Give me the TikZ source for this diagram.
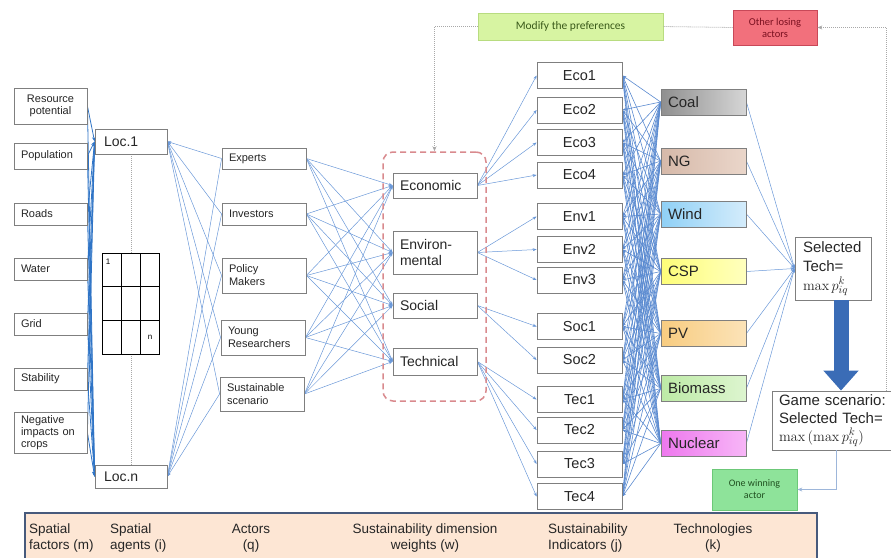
\documentclass[tikz,border=0pt]{standalone}
\usepackage[no-math]{fontspec}
\setmainfont{Liberation Sans}
\newfontfamily\calib{Carlito}
\usetikzlibrary{arrows.meta,calc,backgrounds}
\newcommand{\fsz}[2]{\fontsize{#1}{#2}\selectfont}
\definecolor{boxgray}{HTML}{7F7F7F}
\definecolor{txt}{HTML}{262626}
\definecolor{lineblue}{HTML}{6A98D8}
\definecolor{denseblue}{HTML}{5A8AD0}
\definecolor{strongblue}{HTML}{2F74C6}
\definecolor{dashpink}{HTML}{D98A8E}
\definecolor{fbgray}{HTML}{A8A8A8}
\definecolor{fbblue}{HTML}{9DB6DA}
\definecolor{bigblue}{HTML}{3A6CB6}
\definecolor{modfill}{HTML}{D7F4A2}
\definecolor{moddraw}{HTML}{B8DC80}
\definecolor{modtext}{HTML}{3A5A1A}
\definecolor{othfill}{HTML}{F2707C}
\definecolor{othdraw}{HTML}{C84858}
\definecolor{othtext}{HTML}{7A1020}
\definecolor{winfill}{HTML}{8EE39A}
\definecolor{windraw}{HTML}{6CC878}
\definecolor{wintext}{HTML}{205020}
\definecolor{barfill}{HTML}{FDE6D4}
\definecolor{bardraw}{HTML}{475A7C}
\begin{document}
\begin{tikzpicture}[x=1pt,y=-1pt,
  box/.style={draw=boxgray, line width=0.8pt, fill=white, text=txt, inner ysep=0pt},
  fac/.style={box, font=\fsz{11}{12}, text width=59pt, inner xsep=7pt, align=left},
  locbox/.style={box, font=\fsz{14}{16}, text width=54pt, inner xsep=9pt, align=left, minimum height=25pt},
  act/.style={box, font=\fsz{11}{13}, text width=70pt, inner xsep=7pt, align=left},
  dim/.style={box, font=\fsz{14}{16}, text width=70pt, inner xsep=7pt, align=left},
  ind/.style={box, font=\fsz{14.5}{17}, minimum width=85pt, minimum height=26pt, inner xsep=0pt, align=center},
  tech/.style={draw=boxgray, line width=0.8pt, text=txt, inner ysep=0pt, font=\fsz{15}{17}, text width=71pt, inner xsep=7pt, align=left, minimum height=26pt},
  conn/.style={draw=lineblue, line width=0.5pt, -{Stealth[length=4pt,width=3pt]}},
  dconn/.style={draw=denseblue, line width=0.6pt, -{Stealth[length=4pt,width=3pt]}},
  sconn/.style={draw=strongblue, line width=0.8pt, -{Stealth[length=4.5pt,width=3.5pt]}},
  fbdot/.style={draw=fbgray, line width=0.8pt, dash pattern=on 1pt off 1pt},
  fbline/.style={draw=fbblue, line width=0.9pt},
  fbtip/.style={-{Stealth[length=5pt,width=4pt]}},
  bartext/.style={font=\fsz{13.5}{15.5}, text=txt, inner sep=0pt}
]
\useasboundingbox (0,0) rectangle (891,557);

% spatial factors
\node[fac, minimum height=36pt, align=center] (res) at (50.5,106) {Resource\\potential};
\node[fac, minimum height=26pt] (pop) at (50.5,156) {Population};
\node[fac, minimum height=22pt] (roads) at (50.5,214) {Roads};
\node[fac, minimum height=22pt] (water) at (50.5,269) {Water};
\node[fac, minimum height=22pt] (gridf) at (50.5,324) {Grid};
\node[fac, minimum height=22pt] (stab) at (50.5,379) {Stability};
\node[fac, minimum height=41pt] (neg) at (50.5,432.5) {Negative\\impacts on\\crops};

% spatial agents
\node[locbox] (loc1) at (131,141.5) {Loc.1};
\node[locbox, minimum height=23pt] (locn) at (131,476.5) {Loc.n};
\draw[line width=0.7pt, fill=white] (102,253) rectangle (159,354);
\draw[line width=0.7pt] (121,253) -- (121,354) (140,253) -- (140,354)
  (102,286.7) -- (159,286.7) (102,320.3) -- (159,320.3);
\node[font=\fsz{8}{9}, inner sep=0pt] (gone) at (108,262) {1};
\node[font=\fsz{8}{9}, inner sep=0pt] (gn) at (150,337) {n};

% actors
\node[act, minimum height=21pt] (exp) at (264,158.5) {Experts};
\node[act, minimum height=22pt] (inv) at (264,214) {Investors};
\node[act, minimum height=35pt] (pol) at (264,275.5) {Policy\\Makers};
\node[act, minimum height=35pt] (yng) at (263,337.5) {Young\\Researchers};
\node[act, minimum height=34pt] (sus) at (262,394) {Sustainable\\scenario};

% dimensions
\node[draw=dashpink, dash pattern=on 6pt off 4pt, line width=1.5pt, rounded corners=10pt,
  minimum width=103pt, minimum height=249pt, inner sep=0pt] (dimbox) at (434.5,276.5) {};
\node[dim, minimum height=25pt] (deco) at (435,185.5) {Economic};
\node[dim, minimum height=43pt] (denv) at (435,252.5) {Environ-\\mental};
\node[dim, minimum height=25pt] (dsoc) at (435,305.5) {Social};
\node[dim, minimum height=27pt] (dtec) at (435,361.5) {Technical};

% indicators
\foreach \n/\y in {Eco1/75.5, Eco2/110, Eco3/142.5, Eco4/175, Env1/216.5, Env2/249.5, Env3/280,
  Soc1/326.5, Soc2/360, Tec1/399.5, Tec2/430, Tec3/464, Tec4/496.5}
  \node[ind] (\n) at (579.5,\y) {\n};

% technologies
\node[tech, left color={rgb,255:red,143;green,143;blue,143}, right color={rgb,255:red,214;green,214;blue,214}] (coal) at (703.5,102) {Coal};
\node[tech, left color={rgb,255:red,214;green,185;blue,169}, right color={rgb,255:red,234;green,214;blue,202}] (ng) at (703.5,161) {NG};
\node[tech, left color={rgb,255:red,143;green,208;blue,246}, right color={rgb,255:red,212;green,236;blue,251}] (wind) at (703.5,214) {Wind};
\node[tech, left color={rgb,255:red,254;green,254;blue,120}, right color={rgb,255:red,255;green,255;blue,190}] (csp) at (703.5,271.5) {CSP};
\node[tech, left color={rgb,255:red,248;green,204;blue,128}, right color={rgb,255:red,251;green,227;blue,184}] (pv) at (703.5,333.5) {PV};
\node[tech, left color={rgb,255:red,189;green,234;blue,166}, right color={rgb,255:red,221;green,245;blue,207}] (bio) at (703.5,388.5) {Biomass};
\node[tech, left color={rgb,255:red,238;green,120;blue,238}, right color={rgb,255:red,247;green,182;blue,247}] (nuc) at (703.5,443.5) {Nuclear};

% selection
\node[box, font=\fsz{15}{19}, text width=60pt, inner xsep=8pt, align=left, minimum height=63pt] (sel) at (833,268.5)
  {Selected\\Tech=\\$\max p_{iq}^{k}$};
\node[box, font=\fsz{15}{18}, text width=114pt, inner xsep=7pt, align=left, minimum height=59pt] (game) at (836,420.5)
  {Game scenario:\\Selected Tech=\\$\max\,(\max p_{iq}^{k})$};
\node[draw=windraw, fill=winfill, text=wintext, line width=0.8pt, font=\calib\fsz{10}{12}, align=center,
  minimum width=85pt, minimum height=41pt, inner sep=0pt] (win) at (754.5,489.5) {One winning\\actor};

% top feedback boxes
\node[draw=moddraw, fill=modfill, text=modtext, line width=0.8pt, font=\calib\fsz{11.5}{13},
  minimum width=185pt, minimum height=27pt, inner sep=0pt] (modify) at (570.5,26.5) {Modify the preferences};
\node[draw=othdraw, fill=othfill, text=othtext, line width=0.8pt, font=\calib\fsz{10.5}{12}, align=center,
  minimum width=84pt, minimum height=35pt, inner sep=0pt] (other) at (775,27.5) {Other losing\\actors};

% bottom bar
\node[draw=bardraw, fill=barfill, line width=1.5pt, minimum width=792pt, minimum height=50pt, inner sep=0pt] (bar) at (421,538) {};
\node[bartext, anchor=west, align=left] (lsf) at (29,538) {Spatial\\factors (m)};
\node[bartext, anchor=west, align=left] (lsa) at (110,538) {Spatial\\agents (i)};
\node[bartext, align=center] (lac) at (251,538) {Actors\\(q)};
\node[bartext, align=center] (lsd) at (425,538) {Sustainability dimension\\weights (w)};
\node[bartext, anchor=west, align=left] (lsi) at (548,538) {Sustainability\\Indicators (j)};
\node[bartext, align=center] (lte) at (713,538) {Technologies\\(k)};

% connectors
\begin{scope}[on background layer]
  \draw[fbdot] (loc1.south) -- (locn.north);
  \foreach \f in {res,pop,roads,water,gridf,stab,neg}{
    \draw[sconn] (\f.east) -- (loc1.west);
    \draw[sconn] (\f.east) -- (locn.west);
  }
  \foreach \a in {exp,inv,pol,yng,sus}{
    \draw[conn] (\a.west) -- (loc1.east);
    \draw[conn] (\a.west) -- (locn.east);
    \foreach \d in {deco,denv,dsoc,dtec}
      \draw[conn] (\a.east) -- (\d.west);
  }
  \foreach \i in {Eco1,Eco2,Eco3,Eco4} \draw[conn] (deco.east) -- (\i.west);
  \foreach \i in {Env1,Env2,Env3} \draw[conn] (denv.east) -- (\i.west);
  \foreach \i in {Soc1,Soc2} \draw[conn] (dsoc.east) -- (\i.west);
  \foreach \i in {Tec1,Tec2,Tec3,Tec4} \draw[conn] (dtec.east) -- (\i.west);
  \foreach \t in {coal,ng,wind,csp,pv,bio,nuc}{
    \foreach \i in {Eco1,Eco2,Eco3,Eco4,Env1,Env2,Env3,Soc1,Soc2,Tec1,Tec2,Tec3,Tec4}
      \draw[dconn] (\t.west) -- (\i.east);
    \draw[conn] (\t.east) -- (sel.west);
  }
\end{scope}

% feedback loops
\coordinate (gR) at ($(game.north west)+(115,0)$);
\draw[fbdot, fbtip] (gR) |- (other.east);
\draw[fbdot] (other.west) -- (modify.east);
\draw[fbdot, fbtip] (modify.west) -| (dimbox.north);
\draw[fbline, fbtip] (game.south) |- (win.east);
\draw[draw=bigblue, line width=15pt, -{Triangle[length=20pt,width=34pt]}]
  ($(sel.south)+(8,0)$) -- ($(game.north)+(5,0)$);
\end{tikzpicture}
\end{document}
